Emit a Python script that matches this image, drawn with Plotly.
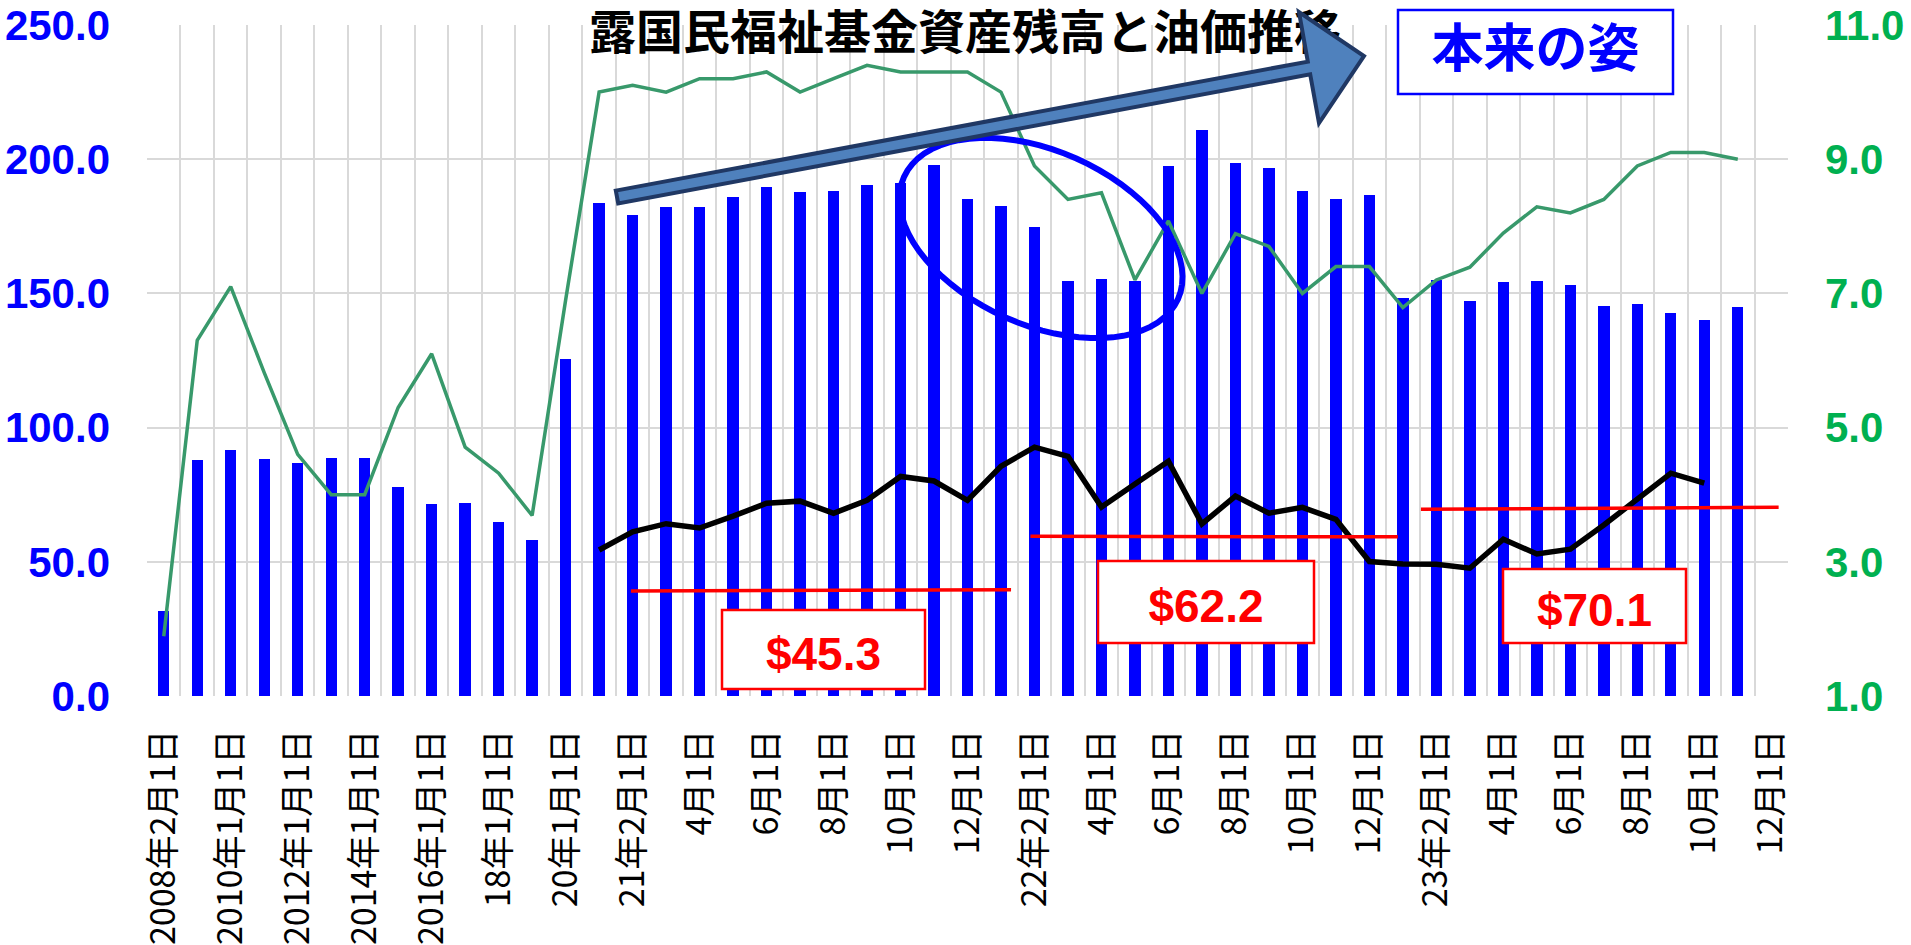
import math
import plotly.graph_objects as go

# ---------------- data ----------------
categories = [
    "2008年2月1日", "2009年1月1日", "2010年1月1日", "2011年1月1日", "2012年1月1日",
    "2013年1月1日", "2014年1月1日", "2015年1月1日", "2016年1月1日", "2017年1月1日",
    "2018年1月1日", "2019年1月1日", "2020年1月1日",
    "2021年1月1日", "2021年2月1日", "2021年3月1日", "2021年4月1日", "2021年5月1日", "2021年6月1日",
    "2021年7月1日", "2021年8月1日", "2021年9月1日", "2021年10月1日", "2021年11月1日", "2021年12月1日",
    "2022年1月1日", "2022年2月1日", "2022年3月1日", "2022年4月1日", "2022年5月1日", "2022年6月1日",
    "2022年7月1日", "2022年8月1日", "2022年9月1日", "2022年10月1日", "2022年11月1日", "2022年12月1日",
    "2023年1月1日", "2023年2月1日", "2023年3月1日", "2023年4月1日", "2023年5月1日", "2023年6月1日",
    "2023年7月1日", "2023年8月1日", "2023年9月1日", "2023年10月1日", "2023年11月1日", "2023年12月1日",
]

tick_labels = [
    "2008年2月1日", "2010年1月1日", "2012年1月1日", "2014年1月1日", "2016年1月1日",
    "18年1月1日", "20年1月1日", "21年2月1日", "4月1日", "6月1日", "8月1日", "10月1日",
    "12月1日", "22年2月1日", "4月1日", "6月1日", "8月1日", "10月1日", "12月1日",
    "23年2月1日", "4月1日", "6月1日", "8月1日", "10月1日", "12月1日",
]

# fund assets (left axis, bars)
fund_assets = [
    31.6, 87.9, 91.6, 88.4, 86.7, 88.5, 88.5, 77.8, 71.7, 71.8, 64.9, 58.0, 125.7,
    183.6, 179.3, 182.2, 182.2, 185.9, 189.5, 187.8, 188.1, 190.5, 191.2, 197.8, 185.2,
    182.6, 174.8, 154.8, 155.2, 154.8, 197.5, 210.9, 198.5, 196.8, 188.2, 185.0, 186.6,
    148.2, 155.0, 147.1, 154.3, 154.8, 153.2, 145.2, 146.2, 142.7, 140.0, 144.8, None,
]

# green line (right axis)
green_values = [
    1.89, 6.30, 7.10, 5.82, 4.60, 4.00, 4.00, 5.30, 6.10, 4.71, 4.32, 3.69, 6.90,
    10.0, 10.1, 10.0, 10.2, 10.2, 10.3, 10.0, 10.2, 10.4, 10.3, 10.3, 10.3,
    10.0, 8.9, 8.4, 8.5, 7.2, 8.08, 7.0, 7.89, 7.70, 7.0, 7.40, 7.40,
    6.79, 7.20, 7.39, 7.90, 8.29, 8.20, 8.40, 8.90, 9.10, 9.10, 9.0, None,
]

# oil price (left axis, black line)
oil_price = [
    None, None, None, None, None, None, None, None, None, None, None, None, None,
    54.4, 61.2, 64.2, 62.6, 67.0, 71.8, 72.6, 68.1, 72.9, 81.8, 80.1, 72.9,
    85.6, 92.7, 89.3, 70.4, 79.0, 87.5, 64.1, 74.5, 68.1, 70.3, 65.8, 50.1,
    49.2, 49.1, 47.6, 58.4, 52.9, 54.7, 63.7, 73.3, 83.0, 79.3, None, None,
]

# average oil price periods (annotation lines)
avg_labels = ["$45.3", "$62.2", "$70.1"]
avg_line_x = [(13.95, 25.3), (25.88, 36.85), (37.54, 48.22)]
avg_line_y = [(39.1, 39.6), (59.5, 59.3), (69.6, 70.3)]

title_text = "露国民福祉基金資産残高と油価推移"
callout_text = "本来の姿"

# ---------------- geometry helpers (pixel -> paper) ----------------
W, H = 1911, 945
PL, PR, PT, PB = 147, 1788, 25, 696


def px(x):
    return (x - PL) / (PR - PL)


def py(y):
    return (PB - y) / (PB - PT)


def path_from(points, close=True):
    s = "M " + " L ".join(f"{px(x):.5f},{py(y):.5f}" for x, y in points)
    return s + (" Z" if close else "")


x_idx = list(range(len(categories)))

fig = go.Figure()
fig.add_trace(go.Bar(
    x=x_idx, y=fund_assets, width=0.34, marker=dict(color="#0000FF", line=dict(width=0)),
    yaxis="y", showlegend=False, hoverinfo="skip",
))
fig.add_trace(go.Scatter(
    x=x_idx, y=oil_price, mode="lines", line=dict(color="#000000", width=5.5),
    yaxis="y", showlegend=False, connectgaps=False,
))
fig.add_trace(go.Scatter(
    x=x_idx, y=green_values, mode="lines", line=dict(color="#38996B", width=3.5),
    yaxis="y2", showlegend=False,
))

shapes = []
# title as a shape label (so the arrow can be drawn above it)
shapes.append(dict(
    type="rect", xref="paper", yref="paper",
    x0=px(480), x1=px(1450), y0=py(63), y1=py(9),
    line=dict(width=0), fillcolor="rgba(0,0,0,0)",
    label=dict(text=title_text, textposition="middle center",
               font=dict(family="Noto Sans CJK JP", size=47, color="#000000", weight="bold")),
))

# red average lines
for (x0, x1), (y0, y1) in zip(avg_line_x, avg_line_y):
    shapes.append(dict(type="line", xref="x", yref="y", x0=x0, x1=x1, y0=y0, y1=y1,
                       line=dict(color="#FF0000", width=3.5)))

# boxes with average prices
box_px = [(722, 925, 610, 689), (1098, 1314, 561, 643), (1503, 1686, 569, 643)]
for (bx0, bx1, by0, by1), lab in zip(box_px, avg_labels):
    shapes.append(dict(
        type="rect", xref="paper", yref="paper",
        x0=px(bx0), x1=px(bx1), y0=py(by1), y1=py(by0),
        line=dict(color="#FF0000", width=2.5), fillcolor="#FFFFFF",
        label=dict(text=lab, textposition="middle center",
                   font=dict(family="Liberation Sans", size=46, color="#FF0000", weight="bold")),
    ))

# blue ellipse
cx, cy, ea, eb, th = 1041, 238, 150, 87, math.radians(24)
ell = []
for k in range(73):
    t = 2 * math.pi * k / 72
    ex = cx + ea * math.cos(t) * math.cos(th) - eb * math.sin(t) * math.sin(th)
    ey = cy + ea * math.cos(t) * math.sin(th) + eb * math.sin(t) * math.cos(th)
    ell.append((ex, ey))
shapes.append(dict(type="path", xref="paper", yref="paper", path=path_from(ell),
                   line=dict(color="#0000FF", width=6), fillcolor="rgba(0,0,0,0)"))

# big arrow
S = (617, 197)
B = (1309, 68)
L = math.hypot(B[0] - S[0], B[1] - S[1])
dx, dy = (B[0] - S[0]) / L, (B[1] - S[1]) / L
nx, ny = -dy, dx
w = 6.5
arrow = [
    (S[0] - nx * w, S[1] - ny * w),
    (B[0] - nx * w, B[1] - ny * w),
    (1299, 12),
    (1364, 56),
    (1319, 123),
    (B[0] + nx * w, B[1] + ny * w),
    (S[0] + nx * w, S[1] + ny * w),
]
shapes.append(dict(type="path", xref="paper", yref="paper", path=path_from(arrow),
                   line=dict(color="#203864", width=4), fillcolor="#4F81BD"))

# callout box
shapes.append(dict(
    type="rect", xref="paper", yref="paper",
    x0=px(1398), x1=px(1673), y0=py(94), y1=py(10),
    line=dict(color="#0000FF", width=2.5), fillcolor="#FFFFFF",
    label=dict(text=callout_text, textposition="middle center",
               font=dict(family="Noto Sans CJK JP", size=52, color="#0000FF", weight="bold")),
))

fig.update_layout(
    width=W, height=H, autosize=False,
    margin=dict(l=PL, r=W - PR, t=PT, b=H - PB, pad=0, autoexpand=False),
    paper_bgcolor="#FFFFFF", plot_bgcolor="#FFFFFF",
    showlegend=False, bargap=0,
    shapes=shapes,
    xaxis=dict(
        range=[-0.5, len(categories) - 0.5], automargin=False,
        tickmode="array", tickvals=x_idx[::2], ticktext=tick_labels,
        tickangle=-90, ticks="", ticklabelstandoff=26,
        tickfont=dict(family="Noto Sans CJK JP", size=34, color="#000000"),
        showgrid=False, zeroline=False, showline=False,
        minor=dict(tickmode="array", tickvals=[i - 0.5 for i in range(len(categories) + 1)],
                   showgrid=True, gridcolor="#D9D9D9", gridwidth=2, ticks=""),
    ),
    yaxis=dict(
        range=[0, 250], tickmode="array", tickvals=[0, 50, 100, 150, 200, 250], automargin=False,
        tickformat=".1f", ticks="", ticklabelstandoff=36,
        tickfont=dict(family="Liberation Sans", size=42, color="#0000FF", weight="bold"),
        showgrid=True, gridcolor="#D9D9D9", gridwidth=2, zeroline=False, showline=False,
    ),
    yaxis2=dict(
        range=[1, 11], overlaying="y", side="right", tickmode="array", automargin=False,
        tickvals=[1, 3, 5, 7, 9, 11], tickformat=".1f", ticks="", ticklabelstandoff=36,
        tickfont=dict(family="Liberation Sans", size=42, color="#00B050", weight="bold"),
        showgrid=False, zeroline=False, showline=False,
    ),
)

fig.write_html("out.html")
